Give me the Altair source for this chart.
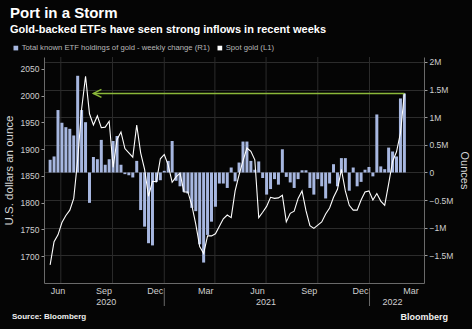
import altair as alt
import pandas as pd

# ---------------- data ----------------
# weekly change of total known ETF holdings of gold, millions of ounces (R1)
etf_change_m = [
    0.23, 0.29, 1.13, 0.90, 0.82, 0.79, 0.67, 1.75, 1.13, 0.91,
    -0.55, 0.28, 0.24, 0.59, 0.14, 0.24, 0.57, 0.66, 0.14, -0.03,
    -0.05, -0.09, 0.21, -0.68, -0.98, -1.28, -1.32, -0.17, -0.14, 0.03,
    0.21, 0.57, -0.15, -0.25, -0.35, -0.38, -0.64, -0.70, -1.30, -1.63,
    -1.13, -0.89, -0.62, -0.20, -0.20, -0.28, 0.09, -0.16, 0.18, 0.56,
    0.56, 0.21, 0.05, 0.20, -0.10, -0.40, -0.30, -0.12, -0.22, 0.42,
    -0.08, -0.18, -0.28, -0.12, 0.04, 0.04, -0.28, -0.40, -0.12, -0.25,
    -0.47, -0.20, 0.15, -0.25, 0.26, 0.26, -0.33, 0.09, -0.25, -0.17,
    0.05, 0.10, -0.07, 1.05, 0.11, 0.06, 0.45, 0.38, 0.29, 1.34, 1.43,
]
# spot gold, US$ per ounce (L1)
gold_price = [
    1684, 1727, 1740, 1763, 1776, 1786, 1808, 1880, 1975, 2036,
    1966, 1945, 1962, 1940, 1941, 1952, 1866, 1918, 1932, 1901,
    1893, 1885, 1945, 1893, 1862, 1812, 1840, 1839, 1882, 1890,
    1870, 1838, 1848, 1855, 1820, 1820, 1795, 1760, 1718, 1705,
    1738, 1738, 1742, 1756, 1770, 1777, 1772, 1822, 1852, 1878,
    1902, 1896, 1880, 1772, 1782, 1793, 1810, 1808, 1809, 1814,
    1764, 1780, 1784, 1808, 1822, 1785, 1757, 1752, 1758, 1764,
    1779, 1790, 1810, 1825, 1862, 1822, 1795, 1786, 1786, 1805,
    1820, 1822, 1805, 1817, 1803, 1795, 1835, 1877, 1895, 1930, 2004,
]
first_week = "2020-06-12"
arrow_start = "2020-08-28"

etf_label = "Total known ETF holdings of gold - weekly change (R1)"
gold_label = "Spot gold (L1)"

month_label_dates = ["2020-06-25", "2020-09-15", "2020-12-15", "2021-03-15",
                     "2021-06-15", "2021-09-15", "2021-12-15", "2022-03-15"]
quarter_dates = ["2020-07-01", "2020-10-01", "2021-01-01", "2021-04-01",
                 "2021-07-01", "2021-10-01", "2022-01-01"]
year_dates = ["2021-01-01", "2022-01-01"]
year_labels = ["2020", "2021", "2022"]
year_label_dates = ["2020-09-20", "2021-07-01", "2022-02-11"]

left_ticks = [1700, 1750, 1800, 1850, 1900, 1950, 2000, 2050]
right_ticks = [-1.5e6, -1e6, -0.5e6, 0, 0.5e6, 1e6, 1.5e6, 2e6]

# ---------------- styling ----------------
W, H = 380, 226
BG = "#050505"
BAR = "#a7b7e0"
GREEN = "#8bb83a"
GRID = "#2c2c2c"
TXT = "#cfcfcf"
FONT = "Liberation Sans"


def dt(s):
    t = pd.Timestamp(s)
    return alt.DateTime(year=t.year, month=t.month, date=t.day)


weeks = pd.date_range(first_week, periods=len(etf_change_m), freq="7D")
df = pd.DataFrame({
    "date": weeks,
    "etf": [v * 1e6 for v in etf_change_m],
    "gold": gold_price,
    "etf_s": etf_label,
    "gold_s": gold_label,
})

xscale = alt.Scale(domain=[dt("2020-06-10"), dt("2022-03-30")])
color_scale = alt.Scale(domain=[etf_label, gold_label], range=[BAR, "#ffffff"])

legend = alt.Legend(
    title=None, orient="none", legendX=-32, legendY=-13, direction="horizontal",
    symbolType="square", symbolSize=22, symbolStrokeWidth=0,
    labelFontSize=7.7, labelColor="#b8b8b8", labelFont=FONT, columnPadding=6,
    symbolOffset=0, labelOffset=2, labelLimit=0,
)

x_axis = alt.Axis(
    values=[dt(d) for d in month_label_dates],
    labelExpr="timeFormat(datum.value, '%b')",
    title=None, tickSize=0, grid=False, domainColor="#6a6a6a",
    labelColor=TXT, labelFontSize=9, labelPadding=3, labelFont=FONT,
)

left_axis = alt.Axis(
    orient="left", values=left_ticks, format="d", labelOverlap=False,
    title="U.S. dollars an ounce", titleColor="#d8d8d8", titleFontSize=11.5,
    titleFont=FONT, titleFontWeight="normal", titlePadding=6,
    grid=False, domainColor="#6a6a6a", tickColor="#9a9a9a", tickSize=3,
    labelColor=TXT, labelFontSize=8.5, labelPadding=2, labelFont=FONT,
)

grid_df = pd.DataFrame({"date": pd.to_datetime(quarter_dates)})
vgrid = alt.Chart(grid_df).mark_rule(color=GRID, strokeWidth=1).encode(
    x=alt.X("date:T", scale=xscale, axis=x_axis)
)

bars = alt.Chart(df).mark_bar(size=3).encode(
    x=alt.X("date:T", scale=xscale, axis=x_axis),
    y=alt.Y(
        "etf:Q",
        scale=alt.Scale(domain=[-2e6, 2.09e6], nice=False, zero=False),
        axis=alt.Axis(
            orient="right", values=right_ticks, labelOverlap=False,
            labelExpr="datum.value == 0 ? '0' : format(datum.value / 1e6, '') + 'M'",
            title="Ounces", titleAngle=90, titleColor="#d8d8d8", titleFontSize=11,
            titleFont=FONT, titleFontWeight="normal", titlePadding=6,
            grid=True, gridColor=GRID, domainColor="#6a6a6a", tickColor="#9a9a9a",
            tickSize=3, labelColor=TXT, labelFontSize=8.5, labelPadding=2, labelFont=FONT,
        ),
    ),
    color=alt.Color("etf_s:N", scale=color_scale, legend=legend),
)

price_scale = alt.Scale(domain=[1650, 2072], nice=False, zero=False)
line = alt.Chart(df).mark_line(strokeWidth=1.1).encode(
    x=alt.X("date:T", scale=xscale, axis=x_axis),
    y=alt.Y("gold:Q", scale=price_scale, axis=left_axis),
    color=alt.Color("gold_s:N", scale=color_scale, legend=legend),
)

arrow_df = pd.DataFrame({
    "date": [pd.Timestamp(arrow_start)],
    "end": [weeks[-1]],
    "gold": [gold_price[-1]],
})
arrow_line = alt.Chart(arrow_df).mark_rule(color=GREEN, strokeWidth=1.5).encode(
    x=alt.X("date:T", scale=xscale, axis=x_axis), x2="end:T",
    y=alt.Y("gold:Q", scale=price_scale, axis=left_axis),
)
arrow_head = alt.Chart(arrow_df).mark_point(
    shape="M2,-1L0,0L2,1", size=64, color=GREEN, filled=False, strokeWidth=1.5, opacity=1
).encode(
    x=alt.X("date:T", scale=xscale, axis=x_axis),
    y=alt.Y("gold:Q", scale=price_scale, axis=left_axis),
)

price_layer = alt.layer(line, arrow_line, arrow_head)

year_df = pd.DataFrame({"date": pd.to_datetime(year_label_dates), "label": year_labels})
year_text = alt.Chart(year_df).mark_text(
    fontSize=9, color=TXT, font=FONT, baseline="middle"
).encode(x=alt.X("date:T", scale=xscale, axis=x_axis), y=alt.value(H + 19), text="label:N")

ysep_df = pd.DataFrame({"date": pd.to_datetime(year_dates)})
year_sep = alt.Chart(ysep_df).mark_rule(color="#6a6a6a", strokeWidth=1).encode(
    x=alt.X("date:T", scale=xscale, axis=x_axis), y=alt.value(H + 5), y2=alt.value(H + 23)
)

src_df = pd.DataFrame({"t": ["Source: Bloomberg"]})
source = alt.Chart(src_df).mark_text(
    align="left", baseline="middle", fontSize=8, fontWeight="bold", color="#f0f0f0", font=FONT
).encode(x=alt.value(-32), y=alt.value(H + 34), text="t:N")

logo_df = pd.DataFrame({"t": ["Bloomberg"]})
logo = alt.Chart(logo_df).mark_text(
    align="right", baseline="middle", fontSize=9, fontWeight="bold", color="#f0f0f0", font=FONT
).encode(x=alt.value(W + 24), y=alt.value(H + 34), text="t:N")

chart = (
    alt.layer(vgrid, bars, price_layer, year_text, year_sep, source, logo)
    .resolve_scale(y="independent")
    .properties(
        width=W, height=H,
        autosize=alt.AutoSizeParams(type="none"),
        padding={"left": 44, "top": 57, "right": 48, "bottom": 46},
        background=BG,
        title=alt.Title(
            "Port in a Storm",
            subtitle="Gold-backed ETFs have seen strong inflows in recent weeks",
            anchor="start", frame="group", dx=-34, offset=9,
            font=FONT, fontSize=15, fontWeight="bold", color="#ffffff",
            subtitleFont=FONT, subtitleFontSize=11, subtitleFontWeight="bold",
            subtitleColor="#ffffff", subtitlePadding=3,
        ),
    )
    .configure_view(stroke=None)
)

chart.save("out.html", embed_options={"renderer": "svg", "actions": False})
